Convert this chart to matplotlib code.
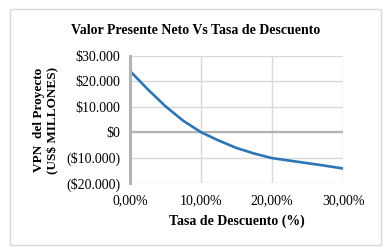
import matplotlib
matplotlib.use("Agg")
import matplotlib.pyplot as plt
from matplotlib.patches import Rectangle
from matplotlib.ticker import FuncFormatter

rates = [0.0, 2.5, 5.0, 7.5, 10.0, 12.5, 15.0, 17.5, 20.0, 22.5, 25.0, 27.5, 30.0]
npv = [24100, 16900, 10200, 4500, 0, -3300, -6200, -8400, -10200, -11200, -12200, -13200, -14300]
y_ticks = [-20000, -10000, 0, 10000, 20000, 30000]
x_ticks = [0, 10, 20, 30]
title = "Valor Presente Neto Vs Tasa de Descuento"
xlabel = "Tasa de Descuento (%)"
ylabel = "VPN  del Proyecto\n(US$ MILLONES)"

plt.rcParams['font.family'] = ['Liberation Serif', 'DejaVu Serif']

W, H = 391, 249
fig = plt.figure(figsize=(W / 100, H / 100), dpi=100)
fig.patch.set_facecolor('white')

fig.patches.append(Rectangle((10 / W, 1 - 245 / H), 371 / W, 236 / H, transform=fig.transFigure,
                             fill=False, edgecolor='#d9d9d9', linewidth=1.0))

ax = fig.add_axes([130 / W, 1 - 183 / H, 213 / W, 127 / H])
ax.plot(rates, npv, color='#2e75b6', linewidth=1.9, solid_capstyle='butt')

ax.set_xlim(0, 30)
ax.set_ylim(-20000, 30000)
ax.set_xticks(x_ticks)
ax.set_yticks(y_ticks)


def yfmt(v, pos):
    v = int(round(v))
    if v == 0:
        return "$0"
    s = f"{abs(v):,}".replace(",", ".")
    return f"(${s})" if v < 0 else f"${s}"


ax.yaxis.set_major_formatter(FuncFormatter(yfmt))
ax.xaxis.set_major_formatter(FuncFormatter(lambda v, p: f"{v:.2f}".replace(".", ",") + "%"))

ax.grid(True, color='#d9d9d9', linewidth=1.0)
ax.set_axisbelow(True)
ax.axhline(0, color='#b4b4b4', linewidth=1.6, zorder=1)
for s in ['top', 'right', 'bottom']:
    ax.spines[s].set_visible(False)
ax.spines['left'].set_color('#b0b3ba')
ax.spines['left'].set_linewidth(2.2)
ax.tick_params(length=0, labelsize=10, colors='black')
ax.tick_params(axis='y', pad=7)
ax.tick_params(axis='x', pad=8)

fig.text(196 / W, 1 - 30 / H, title, ha='center', va='center', fontsize=10, fontweight='bold')
ax.set_xlabel(xlabel, fontsize=10, fontweight='bold', labelpad=5)
fig.text(46 / W, 1 - 120 / H, ylabel, ha='center', va='center', rotation=90,
         fontsize=9.5, fontweight='bold', linespacing=1.2)

fig.savefig("out.png", dpi=100, facecolor='white')
